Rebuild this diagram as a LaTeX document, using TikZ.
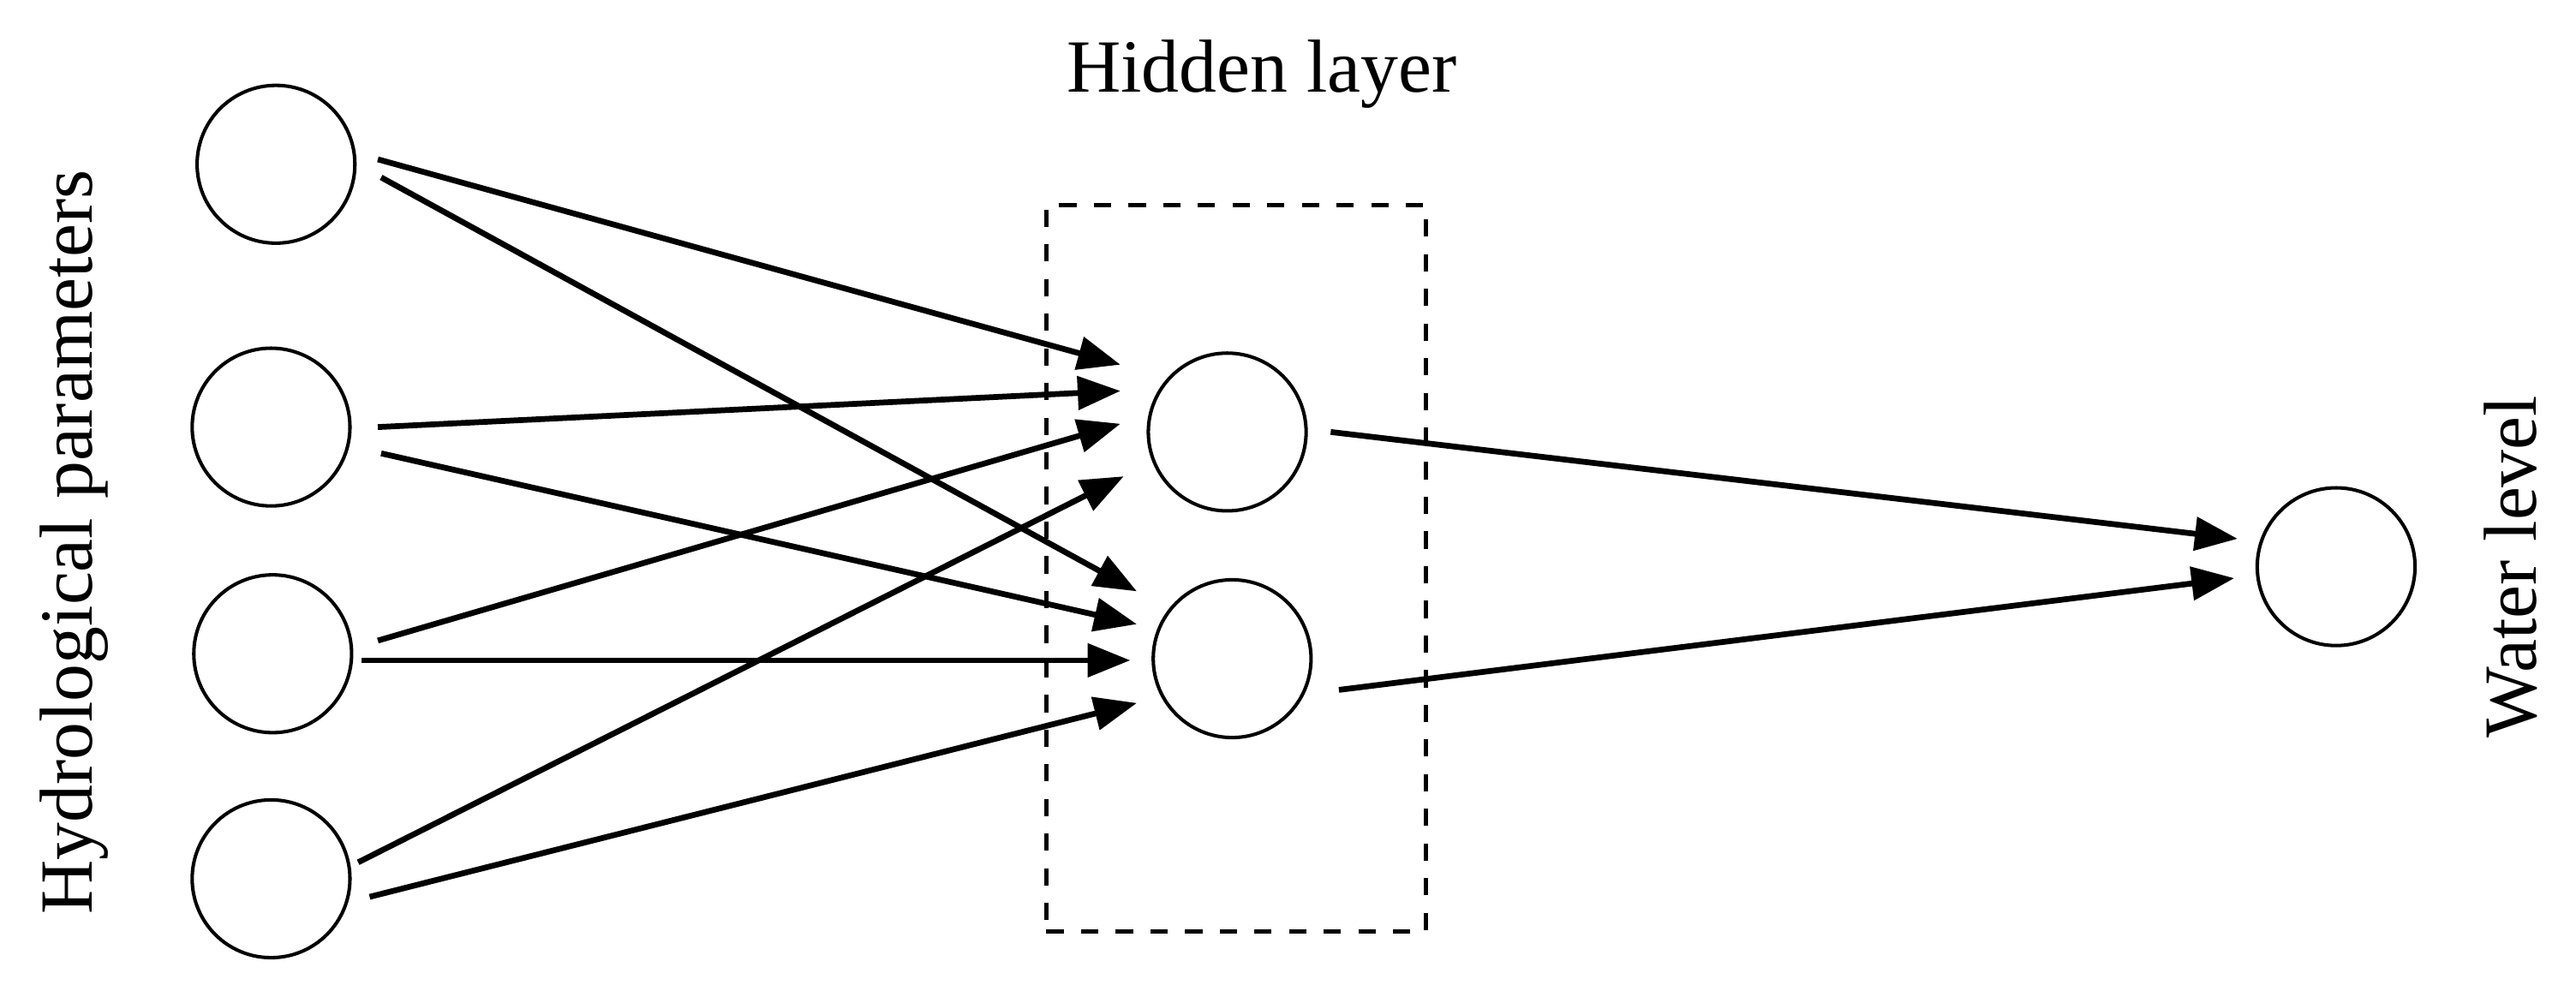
\documentclass[tikz,border=0pt]{standalone}
\usepackage{fontspec}
\setmainfont{Liberation Serif}
\usetikzlibrary{arrows.meta}
\begin{document}
\begin{tikzpicture}[x=0.01cm,y=-0.01cm,
  neuron/.style={draw,circle,minimum size=0.96cm,inner sep=0pt,line width=0.6pt},
  conn/.style={line width=1pt,-{Triangle[length=0.26cm,width=0.2cm]}},
  lbl/.style={font=\fontsize{13}{15}\selectfont}]
\useasboundingbox (0,0) rectangle (1568,603);
\node[neuron] (i1) at (168,100) {};
\node[neuron] (i2) at (165,260) {};
\node[neuron] (i3) at (166,398) {};
\node[neuron] (i4) at (165,535) {};
\node[neuron] (h1) at (747,263) {};
\node[neuron] (h2) at (750,401) {};
\node[neuron] (o) at (1422,345) {};
\node[draw,dashed,line width=0.8pt,minimum width=2.31cm,minimum height=4.42cm,inner sep=0pt] (box) at (752.5,346) {};
\node[lbl] (t1) at (768,45) {Hidden layer};
\node[lbl,rotate=90] (t2) at (45,330) {Hydrological parameters};
\node[lbl,rotate=90] (t3) at (1528,345) {Water level};
% start/end coordinates
\coordinate (a1) at (230,97);  \coordinate (b1) at (682,222);
\coordinate (a2) at (232,108); \coordinate (b2) at (692,360);
\coordinate (a3) at (230,260); \coordinate (b3) at (682,238);
\coordinate (a4) at (232,276); \coordinate (b4) at (692,380);
\coordinate (a5) at (230,390); \coordinate (b5) at (682,258);
\coordinate (a6) at (220,402); \coordinate (b6) at (688,402);
\coordinate (a7) at (218,525); \coordinate (b7) at (684,290);
\coordinate (a8) at (225,546); \coordinate (b8) at (692,428);
\coordinate (a9) at (810,263); \coordinate (b9) at (1362,328);
\coordinate (a10) at (815,420); \coordinate (b10) at (1360,352);
\foreach \k in {1,...,10} \draw[conn] (a\k) -- (b\k);
\end{tikzpicture}
\end{document}
